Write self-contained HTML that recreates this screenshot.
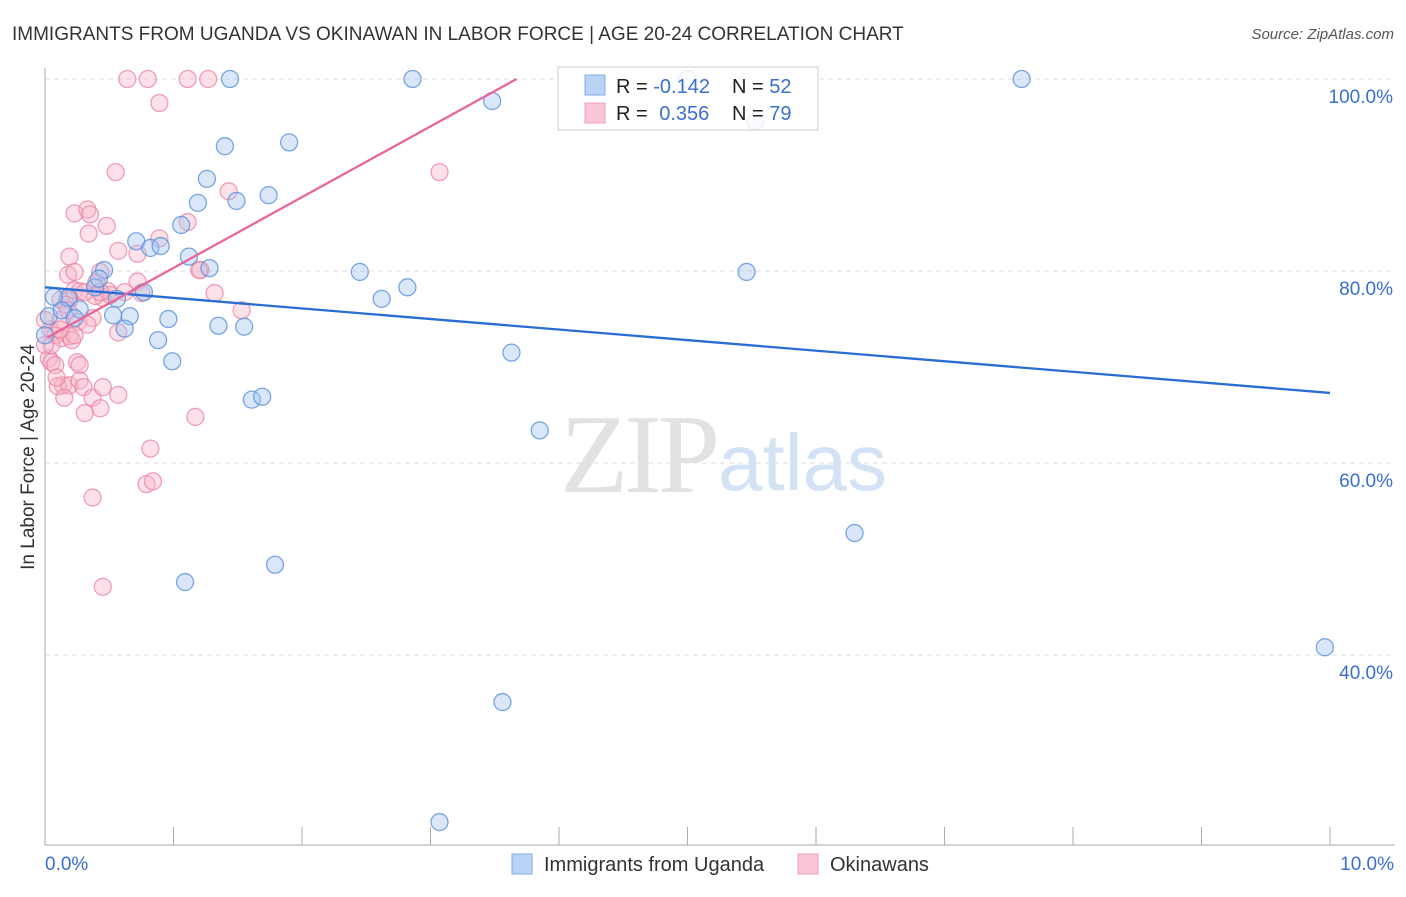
<!DOCTYPE html>
<html><head><meta charset="utf-8"><style>
body{margin:0;background:#fff;font-family:"Liberation Sans",sans-serif}
</style></head><body>
<svg id="chart" width="1406" height="892" xmlns="http://www.w3.org/2000/svg" style="font-family:'Liberation Sans',sans-serif">
<text x="12" y="40" font-size="19" fill="#333">IMMIGRANTS FROM UGANDA VS OKINAWAN IN LABOR FORCE | AGE 20-24 CORRELATION CHART</text>
<text x="1394" y="39" font-size="15" fill="#555" text-anchor="end" font-style="italic">Source: ZipAtlas.com</text>
<text transform="translate(34,457) rotate(-90)" font-size="19" fill="#333" text-anchor="middle">In Labor Force | Age 20-24</text>
<g id="grid"></g>
<text x="716" y="492" font-size="112" text-anchor="end" fill="#e2e2e2" font-family="Liberation Serif" letter-spacing="-4">ZIP</text>
<text x="718" y="490" font-size="80" fill="#d4e2f5">atlas</text>
<g id="marks"></g>
<g>
<rect x="558" y="67" width="260" height="63" fill="#fff" fill-opacity="0.85" stroke="#ccc"/>
<rect x="585" y="75" width="20" height="20" fill="#b9d3f5" stroke="#7eaee8"/>
<rect x="585" y="103" width="20" height="20" fill="#f9c7d6" stroke="#f0a0b8"/>
<text x="616" y="93" font-size="20" fill="#222">R = <tspan fill="#3a6fd0">-0.142</tspan></text>
<text x="732" y="93" font-size="20" fill="#222">N = <tspan fill="#3a6fd0">52</tspan></text>
<text x="616" y="120" font-size="20" fill="#222">R = <tspan fill="#3a6fd0" dx="6">0.356</tspan></text>
<text x="732" y="120" font-size="20" fill="#222">N = <tspan fill="#3a6fd0">79</tspan></text>
</g>
<g>
<rect x="512" y="854" width="20" height="20" fill="#b9d3f5" stroke="#7eaee8"/>
<text x="544" y="871" font-size="20" fill="#333">Immigrants from Uganda</text>
<rect x="798" y="854" width="20" height="20" fill="#f9c7d6" stroke="#f0a0b8"/>
<text x="830" y="871" font-size="20" fill="#333">Okinawans</text>
</g>
</svg>
<script>
const yTicks=[100,80,60,40];
const yTickLabels=["100.0%","80.0%","60.0%","40.0%"];
const xTicks=[0,1,2,3,4,5,6,7,8,9,10];
const xEndLabels=["0.0%","10.0%"];
const blueX=[1.44,2.86,5.00,7.60,3.48,5.53,1.40,1.90,1.26,1.19,1.74,1.49,1.06,0.71,0.82,0.90,1.12,1.28,0.46,2.45,5.46,0.39,0.42,0.18,0.07,0.77,0.56,2.62,2.82,0.03,0.13,0.27,0.53,0.66,0.23,0.96,0.62,1.35,1.55,0.88,0.99,3.63,1.61,1.69,3.85,6.30,1.09,1.79,9.96,3.56,3.07,0.00];
const blueY=[100,100,100,100,97.7,95.6,93.0,93.4,89.6,87.1,87.9,87.3,84.8,83.1,82.4,82.6,81.5,80.3,80.1,79.9,79.9,78.3,79.2,77.2,77.3,77.8,77.1,77.1,78.3,75.3,75.9,76.0,75.4,75.3,75.1,75.0,74.0,74.3,74.2,72.8,70.6,71.5,66.6,66.9,63.4,52.7,47.6,49.4,40.8,35.1,22.6,73.3];
const pinkX=[0.64,0.80,1.11,1.27,0.89,0.55,3.07,1.43,0.23,0.33,0.35,0.48,0.34,0.57,0.89,1.11,0.19,0.72,0.18,0.23,0.43,0.40,0.23,0.27,0.72,0.45,0.75,1.21,1.32,0.49,1.20,1.53,0.12,0.19,0.26,0.37,0.57,0.04,0.08,0.13,0.19,0.21,0.03,0.05,0.08,0.25,0.27,0.14,0.10,0.19,0.27,0.15,0.30,0.37,0.45,0.57,0.43,0.31,1.17,0.82,0.79,0.84,0.37,0.45,0.12,0.16,0.05,0.39,0.51,0.31,0.43,0.62,0.09,0.00,0.00,0.12,0.18,0.33,0.23];
const pinkY=[100,100,100,100,97.5,90.3,90.3,88.3,86.0,86.4,85.9,84.7,83.9,82.1,83.4,85.1,81.5,81.8,79.6,79.9,79.9,78.8,78.0,77.9,78.9,77.2,77.7,80.1,77.7,77.9,80.1,75.9,77.0,77.0,74.7,75.1,73.6,73.9,73.3,73.0,73.2,72.8,70.9,70.5,70.2,70.5,70.2,68.1,68.0,68.1,68.6,66.8,67.9,66.8,67.9,67.1,65.7,65.2,64.8,61.5,57.8,58.1,56.4,47.1,74.9,76.5,72.3,77.4,77.5,77.8,77.8,77.8,68.9,74.9,72.3,73.9,75.9,74.4,73.3];
const blueTrend=[[0,78.3],[10,67.3]];
const pinkTrend=[[0.02,73.1],[3.67,100]];
const X=v=>45+v*128.5, Y=v=>79+(100-v)*9.6;
const NS="http://www.w3.org/2000/svg";
const grid=document.getElementById('grid'), marks=document.getElementById('marks');
function mk(tag,attrs,parent){const e=document.createElementNS(NS,tag);for(const k in attrs)e.setAttribute(k,attrs[k]);parent.appendChild(e);return e;}
yTicks.forEach((t,i)=>{
 const l=mk('line',{x1:45,x2:1395,y1:Y(t),y2:Y(t),stroke:'#ddd','stroke-dasharray':'5,4'},grid);
 
 
 const tx=mk('text',{x:1393,y:Y(t)+24,'font-size':19,fill:'#3a6fd0','text-anchor':'end'},grid);
 tx.textContent=yTickLabels[i];
 
 
});
const ax=mk('line',{x1:45,x2:45,y1:68,y2:845,stroke:'#aaa'},grid);


const bx=mk('line',{x1:45,x2:1395,y1:845,y2:845,stroke:'#aaa'},grid);


xTicks.forEach(t=>{
 const l=mk('line',{x1:X(t),x2:X(t),y1:827,y2:845,stroke:'#aaa'},grid);
 
 
});
[[0,'start',45],[10,'end',1394]].forEach((d,i)=>{
 const tx=mk('text',{x:d[2],y:870,'font-size':19,fill:'#3a6fd0','text-anchor':d[1]},grid);
 tx.textContent=xEndLabels[i];
 
 
});
function pts(xs,ys,fill,stroke,name){
 xs.forEach((x,i)=>{
  const c=mk('circle',{cx:X(x),cy:Y(ys[i]),r:8.5,fill:fill,stroke:stroke,'stroke-width':1.3},marks);
  
  
 });
}
pts(pinkX,pinkY,'rgba(248,180,200,0.4)','rgba(235,130,160,0.75)','okinawan-point');
pts(blueX,blueY,'rgba(160,196,240,0.4)','rgba(90,145,220,0.8)','uganda-point');
function trend(t,color,name){
 const l=mk('line',{x1:X(t[0][0]),y1:Y(t[0][1]),x2:X(t[1][0]),y2:Y(t[1][1]),stroke:color,'stroke-width':2.3},marks);
 
 
}
trend(blueTrend,'#2a6dd4','uganda-trend-line');
trend(pinkTrend,'#e8669a','okinawan-trend-line');
</script>
</body></html>
